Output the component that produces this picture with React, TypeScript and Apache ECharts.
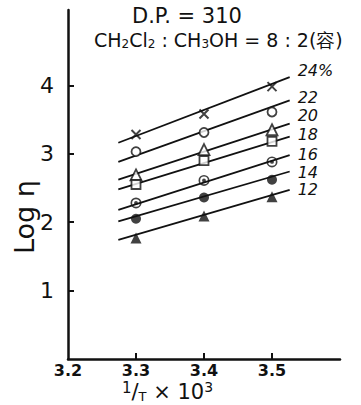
import React, { useEffect, useRef } from "react";
import * as echarts from "echarts";

// ---- data ----
const xPoints = [3.3, 3.4, 3.5];
const concentrations = ["24%", "22", "20", "18", "16", "14", "12"];
const logEta24 = [3.28, 3.58, 3.98];
const logEta22 = [3.03, 3.31, 3.61];
const logEta20 = [2.69, 3.06, 3.35];
const logEta18 = [2.55, 2.9, 3.18];
const logEta16 = [2.28, 2.61, 2.88];
const logEta14 = [2.05, 2.36, 2.62];
const logEta12 = [1.77, 2.09, 2.37];

// fitted straight lines (end points)
const fitX = [3.274, 3.526];
const fit24 = [3.16, 4.12];
const fit22 = [2.88, 3.78];
const fit20 = [2.62, 3.44];
const fit18 = [2.48, 3.25];
const fit16 = [2.18, 2.98];
const fit14 = [2.01, 2.74];
const fit12 = [1.74, 2.47];

const xTickLabels = [3.2, 3.3, 3.4, 3.5];
const xTicks = [3.3, 3.4, 3.5];
const yTickLabels = [1, 2, 3, 4];

const allPoints = [logEta24, logEta22, logEta20, logEta18, logEta16, logEta14, logEta12];
const allFits = [fit24, fit22, fit20, fit18, fit16, fit14, fit12];

// ---- styling ----
const INK = "#111";
const crossPath = "path://M0,0L10,10M10,0L0,10";
const bullseyePath =
  "path://M0,-10A10,10 0 1,1 0,10A10,10 0 1,1 0,-10Z M0,-7A7,7 0 1,0 0,7A7,7 0 1,0 0,-7Z M0,-3.5A3.5,3.5 0 1,1 0,3.5A3.5,3.5 0 1,1 0,-3.5Z";
const markerStyles: any[] = [
  { symbol: crossPath, symbolSize: 9, itemStyle: { color: "none", borderColor: INK, borderWidth: 2 } },
  { symbol: "circle", symbolSize: 9, itemStyle: { color: "#fff", borderColor: INK, borderWidth: 1.8 } },
  { symbol: "triangle", symbolSize: 11, itemStyle: { color: "#fff", borderColor: INK, borderWidth: 1.8 } },
  { symbol: "rect", symbolSize: 9, itemStyle: { color: "#fff", borderColor: INK, borderWidth: 1.8 } },
  { symbol: bullseyePath, symbolSize: 11, itemStyle: { color: INK, borderWidth: 0 } },
  { symbol: "circle", symbolSize: 10, itemStyle: { color: INK } },
  { symbol: "triangle", symbolSize: 11, itemStyle: { color: INK } },
];
const labelOffsets = [
  [0, -7],
  [0, -3],
  [0, -7.6],
  [0, -1.6],
  [0, -1],
  [0, 1],
  [0, 0],
];

export default function App() {
  const ref = useRef<HTMLDivElement>(null);
  useEffect(() => {
    if (!ref.current) return;
    const chart = echarts.init(ref.current, null, { renderer: "svg" });
    const font = "DejaVu Sans";
    const series: any[] = [];
    concentrations.forEach((c, i) => {
      series.push({
        type: "line",
        name: "fit " + c,
        data: fitX.map((x, k) => [x, allFits[i][k]]),
        showSymbol: false,
        symbol: "none",
        lineStyle: { color: INK, width: 1.8 },
        endLabel: {
          show: true,
          formatter: c,
          color: INK,
          fontSize: 16,
          lineHeight: 15,
          fontStyle: "italic",
          fontFamily: font,
          distance: 8,
          offset: labelOffsets[i],
        },
        z: 2,
      });
      series.push({
        type: "scatter",
        name: c,
        data: xPoints.map((x, k) => [x, allPoints[i][k]]),
        ...markerStyles[i],
        z: 3,
      });
    });
    chart.setOption({
      animation: false,
      backgroundColor: "#fff",
      grid: { left: 68, right: 21, top: 10, bottom: 46 },
      xAxis: {
        type: "value",
        min: 3.2,
        max: 3.6,
        interval: 0.1,
        axisLine: { show: true, lineStyle: { color: INK, width: 2.5 } },
        axisTick: { show: true, inside: true, length: 6, customValues: xTicks, lineStyle: { color: INK, width: 2 } },
        axisLabel: {
          customValues: xTickLabels,
          formatter: (v: number) => v.toFixed(1),
          color: INK,
          fontSize: 16,
          fontWeight: "bold",
          fontFamily: font,
          margin: 3,
        },
        splitLine: { show: false },
      },
      yAxis: {
        type: "value",
        min: 0,
        max: 5.1,
        interval: 1,
        axisLine: { show: true, lineStyle: { color: INK, width: 2.5 } },
        axisTick: { show: true, inside: true, length: 6, customValues: yTickLabels, lineStyle: { color: INK, width: 2 } },
        axisLabel: {
          customValues: yTickLabels,
          color: INK,
          fontSize: 22,
          fontFamily: font,
          margin: 14,
        },
        splitLine: { show: false },
      },
      graphic: [
        {
          type: "text",
          left: 132,
          top: 5,
          style: { text: "D.P. = 310", fontSize: 21, fontFamily: font, fill: INK },
        },
        {
          type: "text",
          left: 94,
          top: 30,
          style: {
            text: "CH{s|2}Cl{s|2} : CH{s|3}OH = 8 : 2(容)",
            fontSize: 19,
            fontFamily: font,
            fill: INK,
            rich: {
              s: { fontSize: 12, fontFamily: font, verticalAlign: "bottom", padding: [8, 0, 0, 0] },
            },
          },
        },
        {
          type: "text",
          x: 11,
          y: 254,
          rotation: Math.PI / 2,
          style: { text: "Log η", fontSize: 27, fontFamily: font, fill: INK },
        },
        {
          type: "text",
          left: 122,
          top: 380,
          style: {
            text: "{a|1}/{b|T} × 10{c|3}",
            fontSize: 21,
            fontFamily: font,
            fill: INK,
            rich: {
              a: { fontSize: 15, fontFamily: font, padding: [0, 0, 8, 0] },
              b: { fontSize: 13, fontFamily: font, padding: [8, 0, 0, 0] },
              c: { fontSize: 14, fontFamily: font, padding: [0, 0, 10, 0] },
            },
          },
        },
      ],
      series,
    });
    return () => chart.dispose();
  }, []);
  return <div ref={ref} style={{ position: "fixed", left: 0, top: 0, width: 361, height: 405 }} />;
}
